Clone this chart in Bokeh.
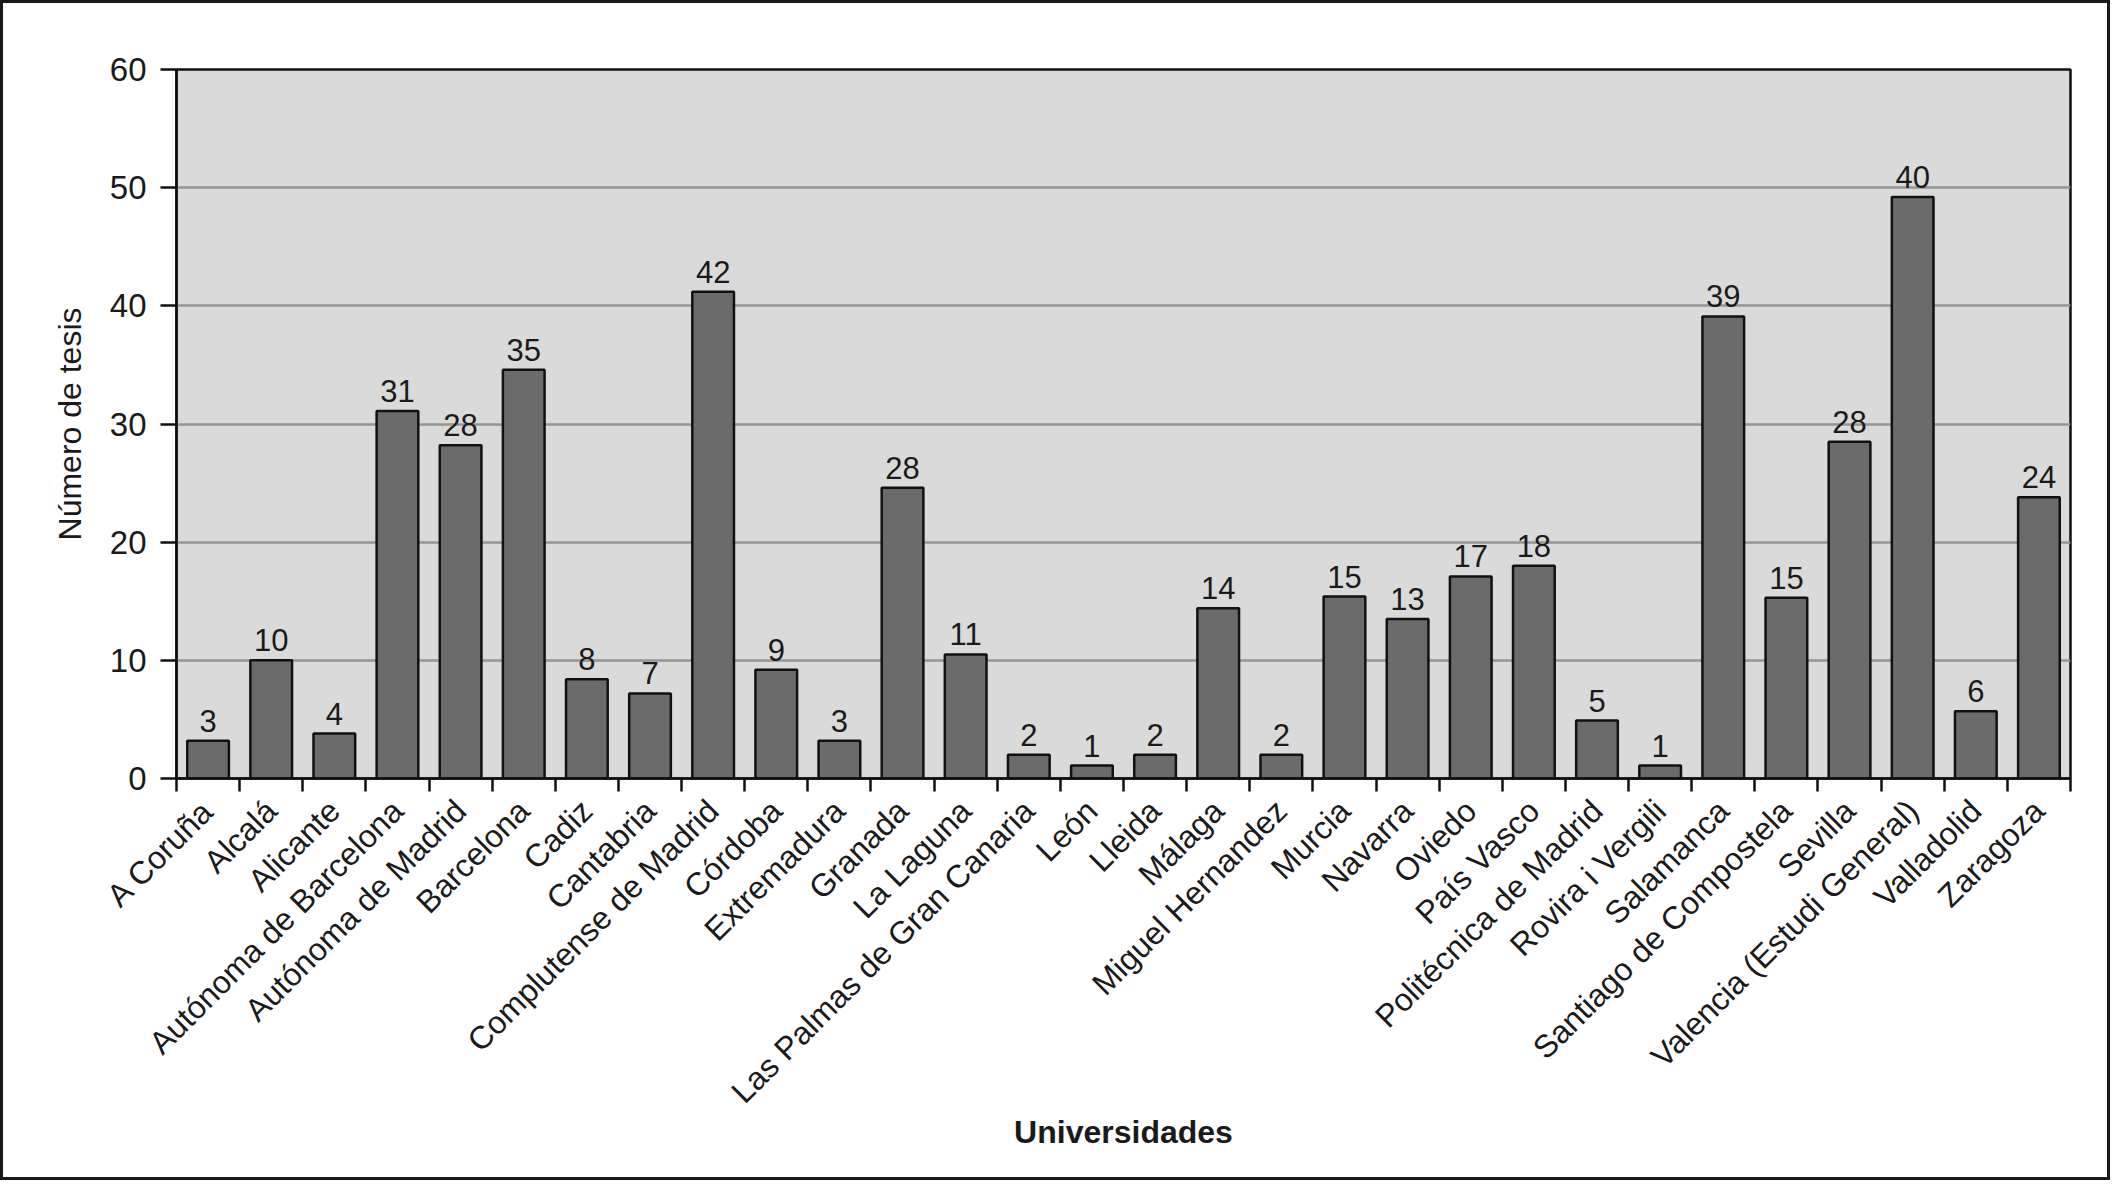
import numpy as np
from bokeh.plotting import figure
from bokeh.models import Range1d, FixedTicker, ColumnDataSource, LabelSet
from bokeh.embed import file_html
from bokeh.resources import INLINE
from bokeh.core.properties import value

universidades = [
    "A Coruña", "Alcalá", "Alicante", "Autónoma de Barcelona", "Autónoma de Madrid",
    "Barcelona", "Cadiz", "Cantabria", "Complutense de Madrid", "Córdoba",
    "Extremadura", "Granada", "La Laguna", "Las Palmas de Gran Canaria", "León",
    "Lleida", "Málaga", "Miguel Hernandez", "Murcia", "Navarra",
    "Oviedo", "País Vasco", "Politécnica de Madrid", "Rovira i Vergili", "Salamanca",
    "Santiago de Compostela", "Sevilla", "Valencia (Estudi General)", "Valladolid", "Zaragoza",
]
# bar heights as drawn
alturas = [3.2, 10.0, 3.8, 31.1, 28.2, 34.6, 8.4, 7.2, 41.2, 9.2,
           3.2, 24.6, 10.5, 2.0, 1.1, 2.0, 14.4, 2.0, 15.4, 13.5,
           17.1, 18.0, 4.9, 1.1, 39.1, 15.3, 28.5, 49.2, 5.7, 23.8]
# value labels as printed
etiquetas = ["3", "10", "4", "31", "28", "35", "8", "7", "42", "9",
             "3", "28", "11", "2", "1", "2", "14", "2", "15", "13",
             "17", "18", "5", "1", "39", "15", "28", "40", "6", "24"]
y_ticks = [0, 10, 20, 30, 40, 50, 60]

FONT = "Liberation Sans"
TXT = "#1a1a1a"

n = len(universidades)
centros = np.arange(n) + 0.5
src = ColumnDataSource(dict(x=centros, top=alturas, lab=etiquetas))

p = figure(width=2110, height=1180, output_backend="svg", toolbar_location=None,
           x_range=Range1d(0, n), y_range=Range1d(0, 60),
           min_border_left=173, min_border_right=43, min_border_top=66, min_border_bottom=405)

p.background_fill_color = "#dadada"
p.border_fill_color = "white"
p.outline_line_color = "#111111"
p.outline_line_width = 2.5

p.vbar(x="x", top="top", width=0.66, source=src, fill_color="#6b6b6b",
       line_color="#111111", line_width=2.5)

labels = LabelSet(x="x", y="top", text="lab", source=src, text_align="center",
                  text_baseline="alphabetic", y_offset=9, text_font=value(FONT),
                  text_font_size=value("31px"), text_color=value(TXT))
p.add_layout(labels)

# grid
p.xgrid.grid_line_color = None
p.ygrid.grid_line_color = "#959595"
p.ygrid.grid_line_width = 2.5
p.ygrid.ticker = FixedTicker(ticks=y_ticks)

# y axis
p.yaxis.ticker = FixedTicker(ticks=y_ticks)
p.yaxis.axis_line_color = "#111111"
p.yaxis.axis_line_width = 2.5
p.yaxis.major_tick_line_color = "#111111"
p.yaxis.major_tick_line_width = 2.5
p.yaxis.major_tick_in = 0
p.yaxis.major_tick_out = 16
p.yaxis.minor_tick_line_color = None
p.yaxis.major_label_standoff = 14
p.yaxis.major_label_text_font = FONT
p.yaxis.major_label_text_font_size = "33px"
p.yaxis.major_label_text_color = TXT
p.yaxis.axis_label = "Número de tesis"
p.yaxis.axis_label_text_font = FONT
p.yaxis.axis_label_text_font_size = "32px"
p.yaxis.axis_label_text_font_style = "normal"
p.yaxis.axis_label_text_color = TXT
p.yaxis.axis_label_standoff = 19

# x axis: labels at centres, ticks at category boundaries
p.xaxis.ticker = FixedTicker(ticks=list(centros), minor_ticks=list(range(n + 1)))
p.xaxis.major_label_overrides = {float(c): u for c, u in zip(centros, universidades)}
p.xaxis.major_tick_line_color = None
p.xaxis.minor_tick_line_color = "#111111"
p.xaxis.minor_tick_line_width = 2.5
p.xaxis.minor_tick_in = 0
p.xaxis.minor_tick_out = 13
p.xaxis.axis_line_color = "#111111"
p.xaxis.axis_line_width = 2.5
p.xaxis.major_label_orientation = np.pi / 4
p.xaxis.major_label_standoff = 14
p.xaxis.major_label_text_font = FONT
p.xaxis.major_label_text_font_size = "32px"
p.xaxis.major_label_text_color = TXT
p.xaxis.axis_label = "Universidades"
p.xaxis.axis_label_text_font = FONT
p.xaxis.axis_label_text_font_size = "32px"
p.xaxis.axis_label_text_font_style = "bold"
p.xaxis.axis_label_text_color = TXT
p.xaxis.axis_label_standoff = -12

p.styles = {"border": "3px solid #1a1a1a", "box-sizing": "border-box"}

open("out.html", "w").write(file_html(p, INLINE))
